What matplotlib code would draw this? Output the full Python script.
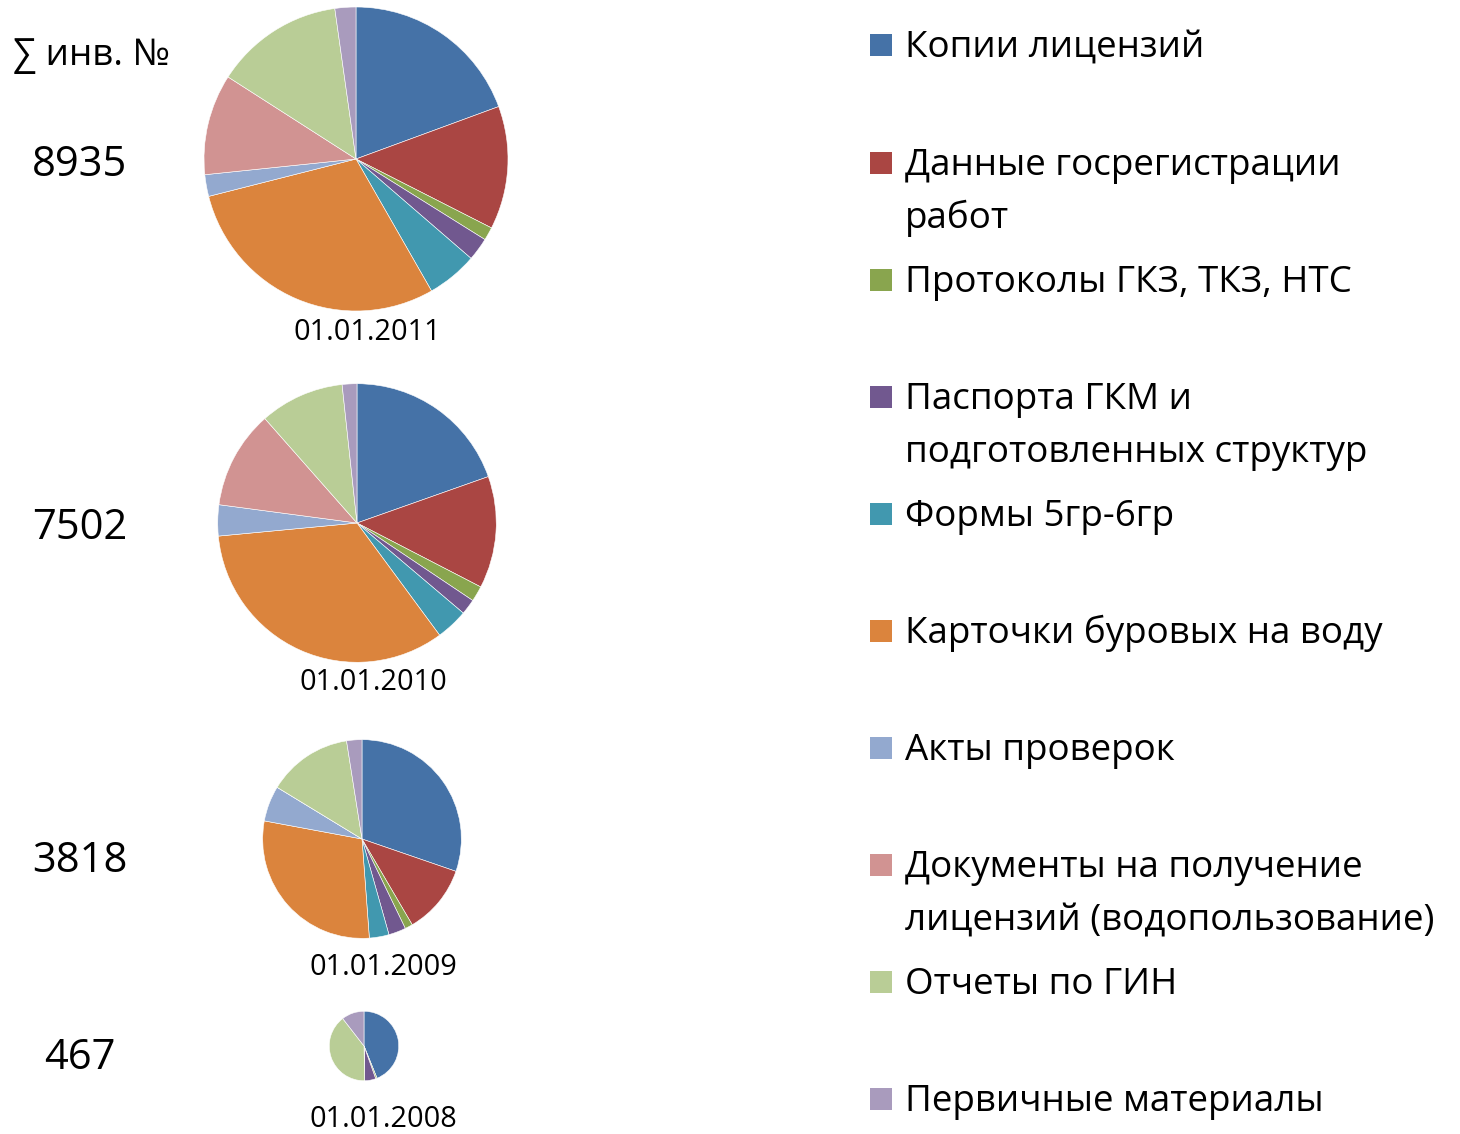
import matplotlib
matplotlib.use("Agg")
import matplotlib.pyplot as plt
from matplotlib.patches import Rectangle
import numpy as np

W, H = 1460, 1134

categories = [
    "Копии лицензий",
    "Данные госрегистрации\nработ",
    "Протоколы ГКЗ, ТКЗ, НТС",
    "Паспорта ГКМ и\nподготовленных структур",
    "Формы 5гр-6гр",
    "Карточки буровых на воду",
    "Акты проверок",
    "Документы на получение\nлицензий (водопользование)",
    "Отчеты по ГИН",
    "Первичные материалы",
]
colors = ["#4572A7", "#AA4643", "#89A54E", "#71588F", "#4198AF",
          "#DB843D", "#93A9CF", "#D19392", "#B9CD96", "#A99BBD"]

dates = ["01.01.2011", "01.01.2010", "01.01.2009", "01.01.2008"]
totals = [8935, 7502, 3818, 467]
values_2011 = [1733, 1170, 125, 219, 481, 2620, 206, 958, 1224, 199]
values_2010 = [1470, 975, 135, 135, 278, 2521, 270, 855, 735, 128]
values_2009 = [1156, 431, 48, 107, 122, 1111, 221, 0, 527, 95]
values_2008 = [205, 0, 3, 24, 0, 0, 0, 0, 186, 49]
series = [values_2011, values_2010, values_2009, values_2008]

# layout (pixel positions, top-left origin)
pie_centers = [(356, 159), (357, 523), (362, 839), (364, 1046)]
max_radius = 152
date_pos = [(367, 332), (373, 682), (383, 967), (383, 1119)]
total_pos = [(80, 160), (80, 523), (80, 856), (80, 1053)]
legend_y = [45, 163, 280, 397, 514, 631, 748, 865, 982, 1099]
line_step = 53

FONT = ["Open Sans", "DejaVu Sans"]

fig = plt.figure(figsize=(W / 100, H / 100), dpi=100)
ax = fig.add_axes([0, 0, 1, 1])

for vals, tot, (cx, cy) in zip(series, totals, pie_centers):
    r = max_radius * np.sqrt(tot / max(totals))
    ax.pie(vals, colors=colors, startangle=90, counterclock=False,
           center=(cx, H - cy), radius=r,
           wedgeprops=dict(linewidth=0.4, edgecolor="white"))

ax.set_xlim(0, W)
ax.set_ylim(0, H)
ax.set_aspect("equal")
ax.axis("off")

for d, (x, y) in zip(dates, date_pos):
    ax.text(x, H - y - 8, d, ha="center", va="baseline", fontsize=20.8,
            family=FONT, color="black")
for t, (x, y) in zip(totals, total_pos):
    ax.text(x, H - y - 16, str(t), ha="center", va="baseline", fontsize=30,
            family=FONT, color="black")
ax.text(13, H - 52 - 13, "∑ инв. №", ha="left", va="baseline", fontsize=26.5,
        family=FONT, color="black")

for lab, col, y in zip(categories, colors, legend_y):
    ax.add_patch(Rectangle((870, H - y - 11), 22, 22, facecolor=col,
                           edgecolor="none"))
    for i, line in enumerate(lab.split("\n")):
        ax.text(905, H - (y + 12 + i * line_step), line, ha="left",
                va="baseline", fontsize=26.5, family=FONT, color="black")

fig.savefig("out.png", dpi=100)
